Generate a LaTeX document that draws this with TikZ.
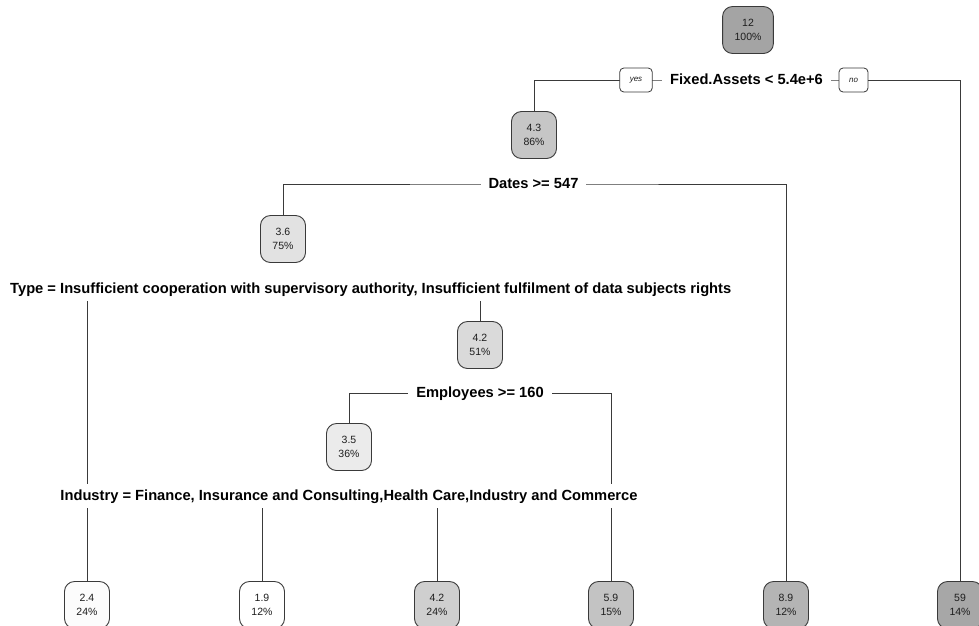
\documentclass[tikz,border=0pt]{standalone}
\usepackage{fontspec}
\setmainfont{Liberation Sans}
\usetikzlibrary{backgrounds}
\definecolor{ln}{HTML}{3A3A3A}
\definecolor{txt}{HTML}{1E1E1E}
\definecolor{c12}{HTML}{A4A4A4}
\definecolor{c43}{HTML}{C6C6C6}
\definecolor{c36}{HTML}{E2E2E2}
\definecolor{c42a}{HTML}{DADADA}
\definecolor{c35}{HTML}{EBEBEB}
\definecolor{c24}{HTML}{FCFCFC}
\definecolor{c19}{HTML}{FFFFFF}
\definecolor{c42}{HTML}{CFCFCF}
\definecolor{c59b}{HTML}{C3C3C3}
\definecolor{c89}{HTML}{B4B4B4}
\definecolor{c59}{HTML}{A7A7A7}
\begin{document}
\begin{tikzpicture}[x=1pt,y=-1pt,
  nd/.style={draw=ln, line width=0.9pt, rounded corners=10pt, minimum width=45pt,
    minimum height=47pt, inner xsep=12pt, align=center,
    font=\fontsize{10.5}{14}\selectfont, text=txt},
  lab/.style={fill=white, inner xsep=8pt, inner ysep=5pt, text height=11pt,
    text depth=3pt, text=black, font=\bfseries\fontsize{14.7}{16}\selectfont},
  yn/.style={draw=ln, line width=0.8pt, fill=white, rounded corners=4pt,
    minimum height=24pt, inner xsep=10pt, text=txt,
    font=\itshape\fontsize{8}{9}\selectfont},
  edge/.style={draw=ln, line width=0.9pt}]
\useasboundingbox (0,0) rectangle (979,625);
% split labels
\node[lab] (lfix) at (746.5,80) {Fixed.Assets < 5.4e+6};
\node[yn] (yes) at (636,80) {yes};
\node[yn] (no) at (853.5,80) {no};
\node[lab] (ldat) at (533.5,184) {Dates >= 547};
\node[lab, anchor=west] (ltype) at (2,289) {Type = Insufficient cooperation with supervisory authority, Insufficient fulfilment of data subjects rights};
\node[lab] (lemp) at (480,393) {Employees >= 160};
\node[lab] (lind) at (349,496) {Industry = Finance, Insurance and Consulting,Health Care,Industry and Commerce};
% nodes
\node[nd, fill=c12] (root) at (748,30) {12\\100\%};
\node[nd, fill=c43] (n43) at (534,135) {4.3\\86\%};
\node[nd, fill=c36] (n36) at (283,239) {3.6\\75\%};
\node[nd, fill=c42a] (n42a) at (480,345) {4.2\\51\%};
\node[nd, fill=c35] (n35) at (349,447) {3.5\\36\%};
\node[nd, fill=c24] (l24) at (87,605) {2.4\\24\%};
\node[nd, fill=c19] (l19) at (262,605) {1.9\\12\%};
\node[nd, fill=c42] (l42) at (437,605) {4.2\\24\%};
\node[nd, fill=c59b] (l59b) at (611,605) {5.9\\15\%};
\node[nd, fill=c89] (l89) at (786,605) {8.9\\12\%};
\node[nd, fill=c59] (l59) at (960,605) {59\\14\%};
% connectors
\begin{scope}[on background layer]
\draw[edge] (n43.north) |- (lfix.center) -| (l59.north);
\draw[edge] (n36.north) |- (ldat.center) -| (l89.north);
\draw[edge] (l24.north) |- (ltype.center) -| (n42a.north);
\draw[edge] (n35.north) |- (lemp.center) -| (l59b.north);
\draw[edge] (l19.north) |- (lind.center) -| (l42.north);
\end{scope}
\end{tikzpicture}
\end{document}
